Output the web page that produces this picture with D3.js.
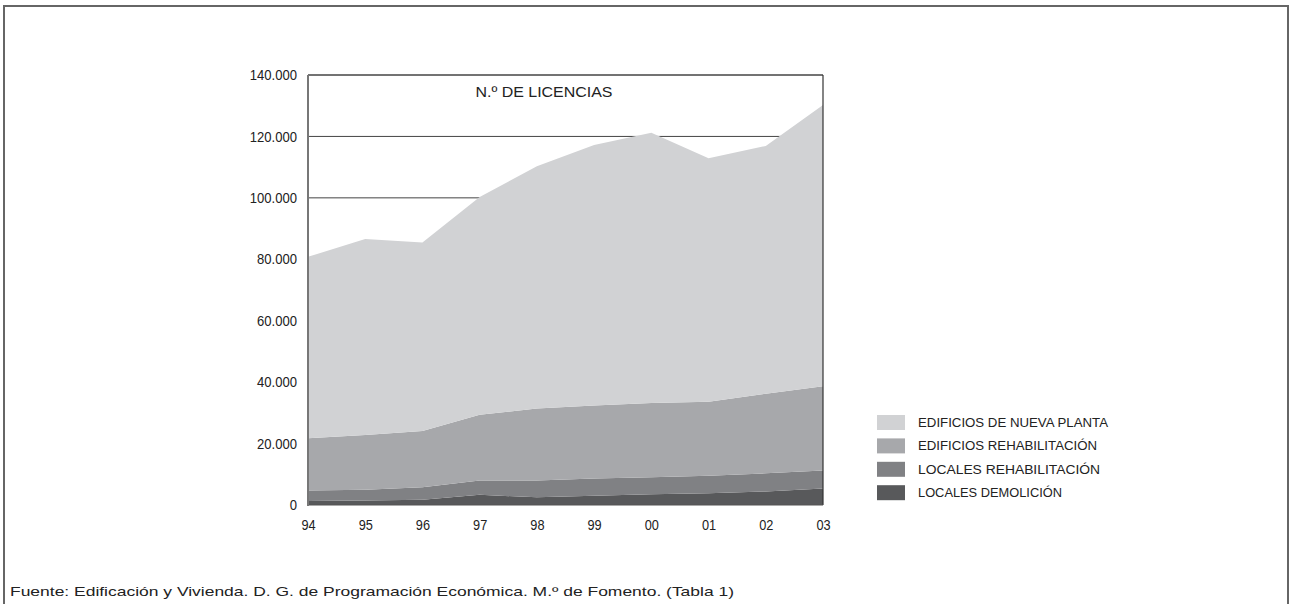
<!DOCTYPE html>
<html><head><meta charset="utf-8">
<script src="https://cdn.jsdelivr.net/npm/d3@7"></script>
<style>body{margin:0;background:#fff}svg{display:block}</style>
</head><body>
<svg id="c" width="1290" height="604"></svg>
<script>
const years = ["94","95","96","97","98","99","00","01","02","03"];
const localesDemolicion    = [1300,1500,1700,3300,2500,3000,3500,3800,4400,5400];
const localesRehab         = [3400,3500,4100,4700,5500,5600,5500,5700,5900,5800];
const edificiosRehab       = [17000,17800,18300,21400,23400,23800,24200,24100,25900,27500];
const edificiosNuevaPlanta = [59100,63800,61400,70900,78900,84800,88000,79300,80700,91500];
const seriesNames = ["LOCALES DEMOLICIÓN","LOCALES REHABILITACIÓN","EDIFICIOS REHABILITACIÓN","EDIFICIOS DE NUEVA PLANTA"];
const seriesColors = ["#58595b","#808184","#a7a8ab","#d1d2d4"];
const yTicks = [0,20000,40000,60000,80000,100000,120000,140000];
const chartTitle = "N.º DE LICENCIAS";
const sourceText = "Fuente: Edificación y Vivienda. D. G. de Programación Económica. M.º de Fomento. (Tabla 1)";

const svg = d3.select("#c");
const keys = ["dem","lr","er","np"];
const rows = years.map((y,i)=>({year:y,dem:localesDemolicion[i],lr:localesRehab[i],er:edificiosRehab[i],np:edificiosNuevaPlanta[i]}));
const stack = d3.stack().keys(keys)(rows);

const L=308,R=823,T=75,B=505;
const x = d3.scalePoint().domain(years).range([L,R]);
const y = d3.scaleLinear().domain([0,140000]).range([B,T]);

// outer frame
svg.append("path").attr("d",`M4,604 V6 H1288 V604`).attr("fill","none").attr("stroke","#666").attr("stroke-width",2);

// gridlines
svg.append("g").selectAll("line").data(yTicks.filter(d=>d>0)).join("line")
  .attr("x1",L).attr("x2",R).attr("y1",d=>y(d)).attr("y2",d=>y(d))
  .attr("stroke","#444").attr("stroke-width",1);

// areas
const area = d3.area().x(d=>x(d.data.year)).y0(d=>y(d[0])).y1(d=>y(d[1]));
svg.append("g").selectAll("path").data(stack).join("path")
  .attr("d",area).attr("fill",(d,i)=>seriesColors[i]);

// plot border
svg.append("line").attr("x1",L).attr("x2",R).attr("y1",T).attr("y2",T).attr("stroke","#444").attr("stroke-width",1);
svg.append("line").attr("x1",R).attr("x2",R).attr("y1",T).attr("y2",B).attr("stroke","#333").attr("stroke-width",1.2);
svg.append("line").attr("x1",L).attr("x2",R).attr("y1",B).attr("y2",B).attr("stroke","#555").attr("stroke-width",1);
svg.append("line").attr("x1",L).attr("x2",L).attr("y1",T).attr("y2",B+1).attr("stroke","#777").attr("stroke-width",2);

const sans = "'Liberation Sans',Arial,sans-serif";
const fmt = d=> d===0 ? "0" : d3.format(",")(d).replace(/,/g,".");
// y axis
const ya = svg.append("g").attr("transform",`translate(${L},0)`)
  .call(d3.axisLeft(y).tickValues(yTicks).tickFormat(fmt).tickSize(0).tickPadding(11));
ya.select(".domain").remove();
ya.selectAll("text").attr("font-family",sans).attr("font-size",14.5).attr("fill","#222")
  .each(function(){ const w=this.getComputedTextLength(); this.setAttribute("textLength", w*0.9); this.setAttribute("lengthAdjust","spacingAndGlyphs"); });

// x axis
const xa = svg.append("g").attr("transform",`translate(0,${B})`)
  .call(d3.axisBottom(x).tickSize(0).tickPadding(15));
xa.select(".domain").remove();
xa.selectAll("text").attr("font-family",sans).attr("font-size",14.5).attr("fill","#222")
  .each(function(){ const w=this.getComputedTextLength(); this.setAttribute("textLength", w*0.88); this.setAttribute("lengthAdjust","spacingAndGlyphs"); });

// title
svg.append("text").attr("x",544).attr("y",97).attr("text-anchor","middle")
  .attr("font-family",sans).attr("font-size",14.5).attr("fill","#222")
  .attr("textLength",137).attr("lengthAdjust","spacingAndGlyphs").text(chartTitle);

// legend (top = nueva planta)
const legOrder = [3,2,1,0];
const legWidths = [144,182,179,190];
const lg = svg.append("g");
legOrder.forEach((si,j)=>{
  const yy = 415 + j*23.4;
  lg.append("rect").attr("x",877).attr("y",yy).attr("width",28).attr("height",15).attr("fill",seriesColors[si]);
  lg.append("text").attr("x",918).attr("y",yy+12).attr("font-family",sans)
    .attr("font-size",12).attr("fill","#222")
    .attr("textLength",legWidths[si]).attr("lengthAdjust","spacingAndGlyphs").text(seriesNames[si]);
});

// source
svg.append("text").attr("x",10).attr("y",596).attr("font-family",sans)
  .attr("font-size",13).attr("fill","#222")
  .attr("textLength",724).attr("lengthAdjust","spacingAndGlyphs").text(sourceText);
</script>
</body></html>
